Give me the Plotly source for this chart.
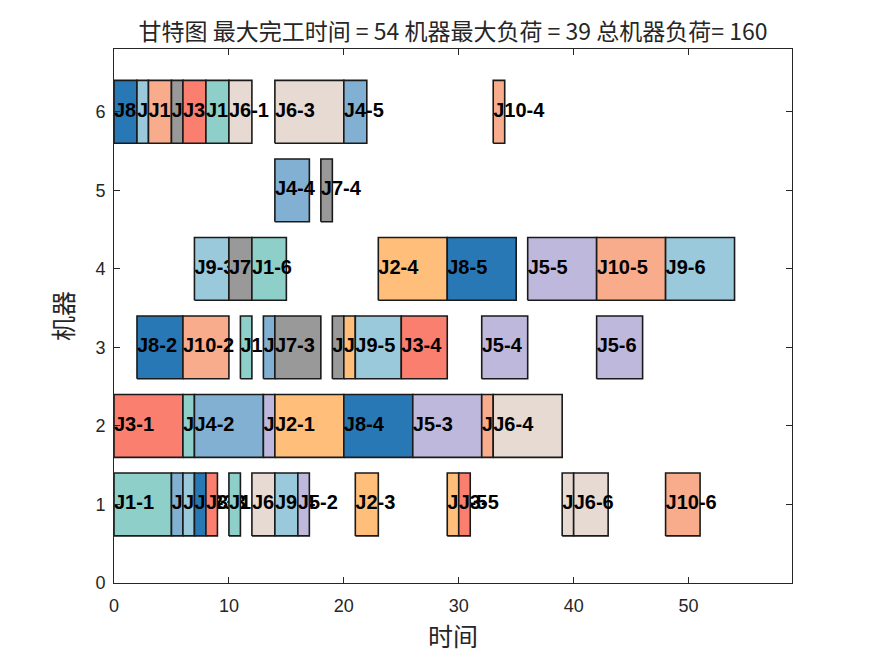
import plotly.graph_objects as go

# Operations: job, operation number, machine, start, end
job_ids  = [1,1,1,1,1,1,
            2,2,2,2,2,
            3,3,3,3,3,
            4,4,4,4,4,
            5,5,5,5,5,5,
            6,6,6,6,6,6,
            7,7,7,7,7,
            8,8,8,8,8,
            9,9,9,9,9,9,
            10,10,10,10,10,10]
op_ids   = [1,2,3,4,5,6,
            1,2,3,4,5,
            1,2,3,4,5,
            1,2,3,4,5,
            1,2,3,4,5,6,
            1,2,3,4,5,6,
            1,2,3,4,5,
            1,2,3,4,5,
            1,2,3,4,5,6,
            1,2,3,4,5,6]
machines = [1,2,6,1,3,4,
            2,3,1,4,1,
            2,6,1,3,1,
            1,2,3,5,6,
            2,1,2,3,4,3,
            6,1,6,2,1,1,
            6,4,3,5,3,
            6,3,1,2,4,
            6,1,4,1,3,4,
            6,3,2,6,4,1]
starts   = [0,6,8,10,11,12,
            14,20,21,23,29,
            0,6,8,25,30,
            5,7,13,14,20,
            13,16,26,32,36,42,
            10,12,14,33,39,40,
            5,10,14,18,19,
            0,2,7,20,29,
            2,6,7,14,21,48,
            3,6,32,33,42,48]
ends     = [5,7,10,11,12,15,
            20,21,23,29,30,
            6,8,9,29,31,
            6,13,14,17,22,
            14,17,32,36,42,46,
            12,14,20,39,40,43,
            6,12,18,19,20,
            2,6,8,26,35,
            3,7,10,16,25,54,
            5,10,33,34,48,51]

job_colors = {1: "#8ECFC9", 2: "#FFBE7A", 3: "#FA7F6F", 4: "#82B0D2", 5: "#BEB8DC",
              6: "#E7DAD2", 7: "#999999", 8: "#2878B5", 9: "#9AC9DB", 10: "#F8AC8C"}

title_text = "甘特图 最大完工时间 = 54 机器最大负荷 = 39 总机器负荷= 160"
x_label = "时间"
y_label = "机器"
x_ticks = [0, 10, 20, 30, 40, 50]
y_ticks = [0, 1, 2, 3, 4, 5, 6]
bar_half = 0.4

fig = go.Figure()

# draw each operation (box, then its label) in order of start time,
# so later boxes cover earlier labels as in the reference
order = sorted(range(len(job_ids)), key=lambda i: (starts[i], machines[i]))
for i in order:
    s, e, m = starts[i], ends[i], machines[i]
    fig.add_trace(go.Scatter(
        x=[s, e, e, s, s],
        y=[m - bar_half, m - bar_half, m + bar_half, m + bar_half, m - bar_half],
        mode="lines",
        fill="toself",
        fillcolor=job_colors[job_ids[i]],
        line=dict(color="#1a1a1a", width=1.6),
        showlegend=False,
        hoverinfo="skip",
    ))
    fig.add_trace(go.Scatter(
        x=[s], y=[m],
        mode="text",
        text=[f"J{job_ids[i]}-{op_ids[i]}"],
        textposition="middle right",
        textfont=dict(family="Liberation Sans, Arial", size=20, color="black", weight="bold"),
        showlegend=False,
        hoverinfo="skip",
        cliponaxis=False,
    ))

axis_common = dict(
    showline=True, linecolor="#262626", linewidth=1, mirror="ticks",
    ticks="inside", ticklen=6, tickcolor="#262626", showgrid=False, zeroline=False,
    automargin=False,
    tickfont=dict(family="Liberation Sans, Arial", size=18, color="#262626"),
)

W, H = 867, 648
fig.update_layout(
    width=W, height=H,
    margin=dict(l=106, r=83, t=41, b=73),
    plot_bgcolor="white", paper_bgcolor="white",
    title=dict(text=title_text, xref="paper", x=0.5, xanchor="center",
               y=1 - 24 / H, yanchor="middle",
               font=dict(family="Noto Sans CJK SC, Liberation Sans", size=23, color="#262626")),
    xaxis=dict(range=[0, 59], tickvals=x_ticks, ticklabelstandoff=6,
               title=dict(text=x_label, standoff=13,
                          font=dict(family="Noto Sans CJK SC", size=25, color="#262626")),
               **axis_common),
    yaxis=dict(range=[0, 6.8], tickvals=y_ticks, ticklabelstandoff=4,
               title=dict(text=y_label, standoff=14,
                          font=dict(family="Noto Sans CJK SC", size=25, color="#262626")),
               **axis_common),
)

fig.write_html("out.html")
